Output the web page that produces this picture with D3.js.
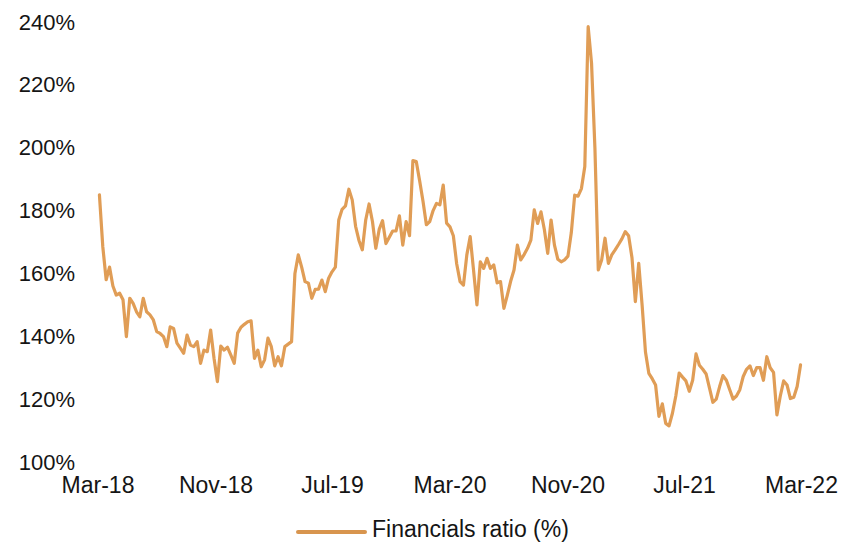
<!DOCTYPE html>
<html>
<head>
<meta charset="utf-8">
<script src="https://cdn.jsdelivr.net/npm/d3@7"></script>
<style>
  html, body { margin: 0; padding: 0; background: #ffffff; }
  svg { display: block; font-family: "Liberation Sans", Arial, Helvetica, sans-serif; }
</style>
</head>
<body>
<svg id="chart" width="841" height="543"></svg>
<script>
// Weekly financials ratio, first observation in the week of 5 March 2018
const firstWeek = "2018-03-05";
const ratioValues = [
  185.0, 168.5, 158.0, 162.0, 156.0, 153.1, 153.7, 151.6, 139.9, 152.1,
  150.5, 147.8, 146.2, 152.1, 147.8, 146.8, 145.2, 141.5, 140.9, 139.9,
  136.7, 143.0, 142.5, 137.8, 136.2, 134.6, 140.4, 137.2, 136.7, 138.3,
  131.4, 135.6, 135.1, 142.0, 133.0, 125.6, 136.9, 135.6, 136.5, 134.0,
  131.4, 141.0, 142.9, 143.8, 144.6, 144.9, 133.0, 135.6, 130.3, 132.5,
  139.4, 136.7, 130.6, 133.5, 130.6, 136.7, 137.5, 138.3, 160.0, 165.9,
  162.0, 157.4, 156.9, 152.1, 154.9, 155.0, 157.9, 154.2, 158.5, 160.5,
  162.0, 177.0, 180.4, 181.5, 186.8, 183.4, 175.0, 170.5, 167.5, 177.0,
  182.1, 176.5, 168.0, 174.0, 176.8, 169.5, 171.5, 173.5, 173.5, 178.3,
  169.0, 176.5, 172.0, 195.9, 195.6, 189.5, 183.0, 175.5, 176.5, 180.0,
  182.3, 181.8, 188.1, 176.0, 174.8, 172.0, 163.0, 157.4, 156.3, 165.9,
  171.7, 161.0, 150.0, 163.7, 161.6, 164.8, 161.6, 162.7, 157.0, 157.4,
  148.9, 153.0, 157.5, 161.1, 169.0, 164.3, 166.0, 168.0, 170.6, 180.2,
  175.9, 179.6, 174.0, 166.4, 177.0, 169.0, 164.5, 163.7, 164.3, 165.5,
  173.0, 184.9, 184.6, 187.0, 194.0, 238.5, 226.9, 200.0, 161.1, 164.3,
  171.2, 163.2, 165.9, 167.5, 169.2, 171.0, 173.3, 172.0, 165.0, 151.0,
  163.2, 150.0, 135.0, 128.2, 126.5, 124.5, 114.5, 118.5, 112.3, 111.5,
  115.5, 121.0, 128.3, 127.0, 125.8, 122.5, 126.0, 134.4, 130.8, 129.5,
  128.0, 123.5, 119.0, 120.0, 124.0, 127.5, 126.0, 123.0, 120.0, 121.0,
  123.0, 127.2, 129.5, 130.6, 127.5, 130.0, 130.0, 126.0, 133.5, 130.0,
  128.5, 115.0, 121.0, 125.8, 124.5, 120.2, 120.6, 124.0, 130.9
];

const xTickLabels = ["Mar-18", "Nov-18", "Jul-19", "Mar-20", "Nov-20", "Jul-21", "Mar-22"];
const yTickValues = [100, 120, 140, 160, 180, 200, 220, 240];
const seriesName = "Financials ratio (%)";

const parseTick = d3.timeParse("%b-%y");
const start = d3.timeParse("%Y-%m-%d")(firstWeek);
const series = ratioValues.map((v, i) => ({ date: d3.timeWeek.offset(start, i), value: v }));
const xTicks = xTickLabels.map(parseTick);

const svg = d3.select("#chart");

const x = d3.scaleTime()
  .domain([xTicks[0], xTicks[xTicks.length - 1]])
  .range([97.5, 801]);

const y = d3.scaleLinear()
  .domain([100, 240])
  .range([462, 22]);

// y axis: labels only
const yAxis = svg.append("g")
  .attr("transform", "translate(80,0)")
  .call(d3.axisLeft(y)
    .tickValues(yTickValues)
    .tickSize(0)
    .tickPadding(5)
    .tickFormat(d => d + "%"));
yAxis.select(".domain").remove();
yAxis.selectAll("text")
  .attr("fill", "#151515")
  .style("font-size", "22px");

// x axis: labels only
const xAxis = svg.append("g")
  .attr("transform", "translate(0,462)")
  .call(d3.axisBottom(x)
    .tickValues(xTicks)
    .tickSize(0)
    .tickPadding(15)
    .tickFormat((d, i) => xTickLabels[i]));
xAxis.select(".domain").remove();
xAxis.selectAll("text")
  .attr("fill", "#151515")
  .style("font-size", "23px");

// ratio line
const line = d3.line()
  .x(d => x(d.date))
  .y(d => y(d.value));

svg.append("path")
  .datum(series)
  .attr("fill", "none")
  .attr("stroke", "#e09d56")
  .attr("stroke-width", 3.2)
  .attr("stroke-linejoin", "round")
  .attr("stroke-linecap", "round")
  .attr("d", line);

// legend
const legend = svg.append("g");
legend.append("line")
  .attr("x1", 298).attr("x2", 365)
  .attr("y1", 532).attr("y2", 532)
  .attr("stroke", "#d8954e")
  .attr("stroke-width", 4)
  .attr("stroke-linecap", "round");
legend.append("text")
  .attr("x", 372)
  .attr("y", 537)
  .attr("fill", "#151515")
  .style("font-size", "23px")
  .text(seriesName);
</script>
</body>
</html>
